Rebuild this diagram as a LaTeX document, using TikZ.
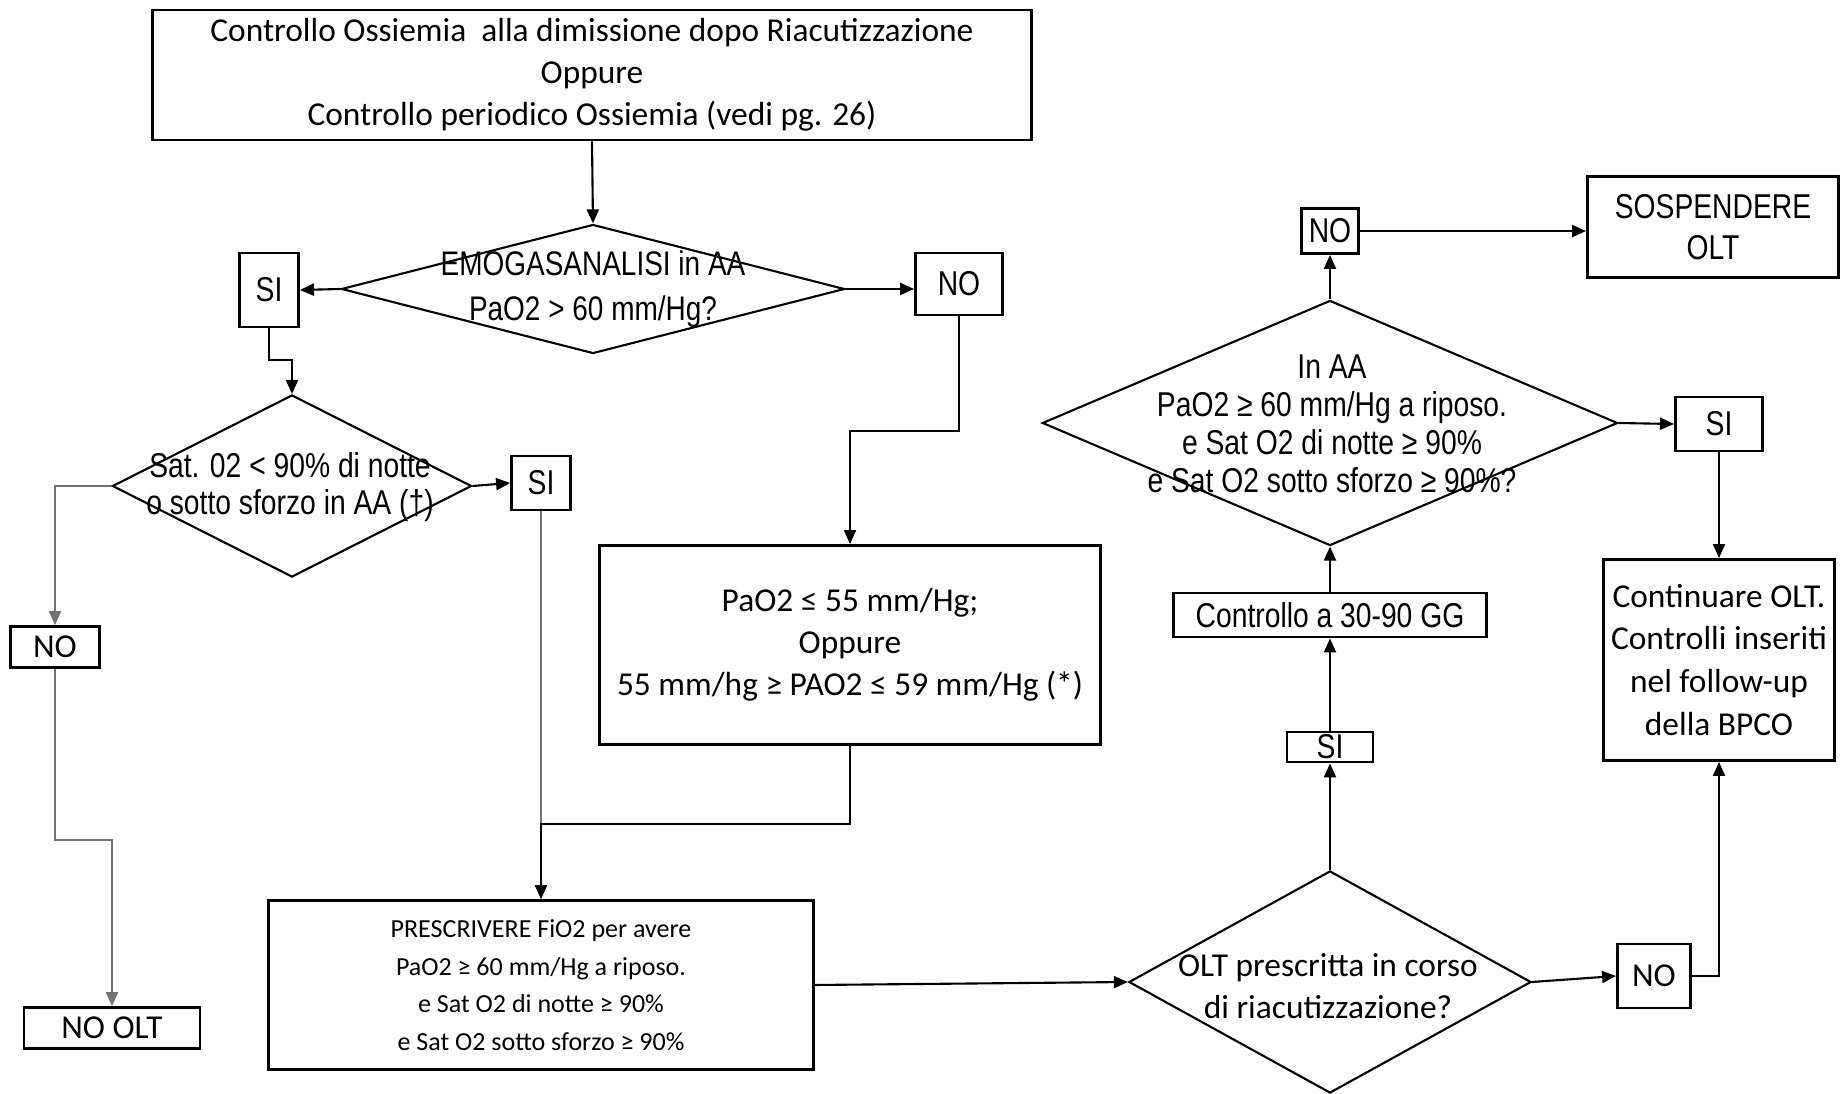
\documentclass[tikz,border=0pt]{standalone}
\usepackage{fontspec}
\setmainfont{Carlito}
\newfontfamily\narrowfont[FakeStretch=0.82]{Liberation Sans}
\usetikzlibrary{arrows.meta, shapes.geometric}

\begin{document}
\begin{tikzpicture}[x=0.01cm, y=-0.01cm,
    box/.style={rectangle, draw, line width=0.8pt, inner sep=0pt, align=center, font=\fontsize{9.5}{12}\selectfont},
    nbox/.style={box, font=\narrowfont\fontsize{9.8}{12}\selectfont},
    decision/.style={diamond, draw, line width=0.6pt, inner sep=0pt},
    dtext/.style={align=center, inner sep=0pt, font=\narrowfont\fontsize{9.8}{10.8}\selectfont},
    arrow/.style={-{Triangle[length=1.4mm, width=1.2mm]}, line width=0.6pt},
    greyarrow/.style={arrow, draw=black!55}]

    \useasboundingbox (0,0) rectangle (1847,1094);

    % Left half
    \node[box, minimum width=8.78cm, minimum height=1.30cm] (start) at (592,75) {Controllo Ossiemia\ \ alla dimissione dopo Riacutizzazione\\Oppure\\Controllo periodico Ossiemia (vedi pg. 26)};
    \node[decision, minimum width=5.03cm, minimum height=1.29cm] (emo) at (593,289) {};
    \node[dtext, font=\narrowfont\fontsize{9.7}{12.8}\selectfont] (emotext) at (emo) {EMOGASANALISI in AA\\PaO2 > 60 mm/Hg?};
    \node[nbox, minimum width=0.59cm, minimum height=0.74cm] (si1) at (269,290) {SI};
    \node[nbox, minimum width=0.87cm, minimum height=0.62cm] (no1) at (959,284) {NO};
    \node[decision, minimum width=3.59cm, minimum height=1.82cm] (sat) at (292,486) {};
    \node[dtext, font=\narrowfont\fontsize{9.8}{10.6}\selectfont] (sattext) at (290,487) {Sat. 02 < 90\% di notte\\o sotto sforzo in AA (†)};
    \node[nbox, minimum width=0.59cm, minimum height=0.54cm] (si2) at (541,483) {SI};
    \node[box, minimum width=0.89cm, minimum height=0.41cm] (no2) at (55,647) {NO};
    \node[box, minimum width=1.76cm, minimum height=0.41cm] (nolt) at (112,1028) {NO OLT};
    \node[box, minimum width=5.00cm, minimum height=1.99cm] (pao) at (850,645) {PaO2 ≤ 55 mm/Hg;\\Oppure\\55 mm/hg ≥ PAO2 ≤ 59 mm/Hg (*)};
    \node[box, minimum width=5.45cm, minimum height=1.69cm, font=\fontsize{7.4}{10.7}\selectfont] (prescr) at (541,985) {PRESCRIVERE FiO2 per avere\\PaO2 ≥ 60 mm/Hg a riposo.\\e Sat O2 di notte ≥ 90\%\\e Sat O2 sotto sforzo ≥ 90\%};

    % Right half
    \node[decision, minimum width=4.02cm, minimum height=2.22cm] (olt) at (1330,982) {};
    \node[align=center, inner sep=0pt, font=\fontsize{9.5}{12}\selectfont] (olttext) at (1328,986) {OLT prescritta in corso\\di riacutizzazione?};
    \node[nbox, minimum width=0.86cm, minimum height=0.30cm] (si3) at (1330,747) {SI};
    \node[nbox, minimum width=3.13cm, minimum height=0.44cm] (ctrl) at (1330,615) {Controllo a 30-90 GG};
    \node[decision, minimum width=5.75cm, minimum height=2.45cm] (inaa) at (1330,423) {};
    \node[dtext] (inaatext) at (1332,424) {In AA\\PaO2 ≥ 60 mm/Hg a riposo.\\e Sat O2 di notte ≥ 90\%\\e Sat O2 sotto sforzo ≥ 90\%?};
    \node[nbox, minimum width=0.57cm, minimum height=0.45cm] (no3) at (1330,231) {NO};
    \node[nbox, minimum width=2.51cm, minimum height=1.01cm, font=\narrowfont\fontsize{9.8}{11.8}\selectfont] (sosp) at (1713,227) {SOSPENDERE\\OLT};
    \node[nbox, minimum width=0.87cm, minimum height=0.54cm] (si4) at (1719,424) {SI};
    \node[box, minimum width=2.31cm, minimum height=2.01cm, font=\fontsize{9.5}{12.2}\selectfont] (cont) at (1719,660) {Continuare OLT.\\Controlli inseriti\\nel follow-up\\della BPCO};
    \node[box, minimum width=0.73cm, minimum height=0.64cm] (no4) at (1654,976) {NO};

    % Connectors
    \draw[arrow] (start.south) -- (emo.north);
    \draw[arrow] (emo.west) -- (si1.east);
    \draw[arrow] (emo.east) -- (emo.east -| no1.west);
    \draw[arrow] (si1.south) -- ++(0,32) -| (sat.north);
    \draw[arrow] (sat.east) -- (si2.west);
    \draw[greyarrow] (sat.west) -| (no2.north);
    \draw[greyarrow] (no2.south) -- ++(0,171) -| (nolt.north);
    \draw[greyarrow] (si2.south) -- (prescr.north);
    \draw[arrow] (no1.south) -- ++(0,115) -| (pao.north);
    \draw[arrow] (pao.south) -- ++(0,78) -| (prescr.north);
    \draw[arrow] (prescr.east) -- (olt.west);
    \draw[arrow] (olt.north) -- (si3.south);
    \draw[arrow] (si3.north) -- (ctrl.south);
    \draw[arrow] (ctrl.north) -- (inaa.south);
    \draw[arrow] (inaa.north) -- (no3.south);
    \draw[arrow] (no3.east) -- (no3.east -| sosp.west);
    \draw[arrow] (inaa.east) -- (si4.west);
    \draw[arrow] (si4.south) -- (cont.north);
    \draw[arrow] (olt.east) -- (no4.west);
    \draw[arrow] (no4.east) -| (cont.south);

\end{tikzpicture}
\end{document}
